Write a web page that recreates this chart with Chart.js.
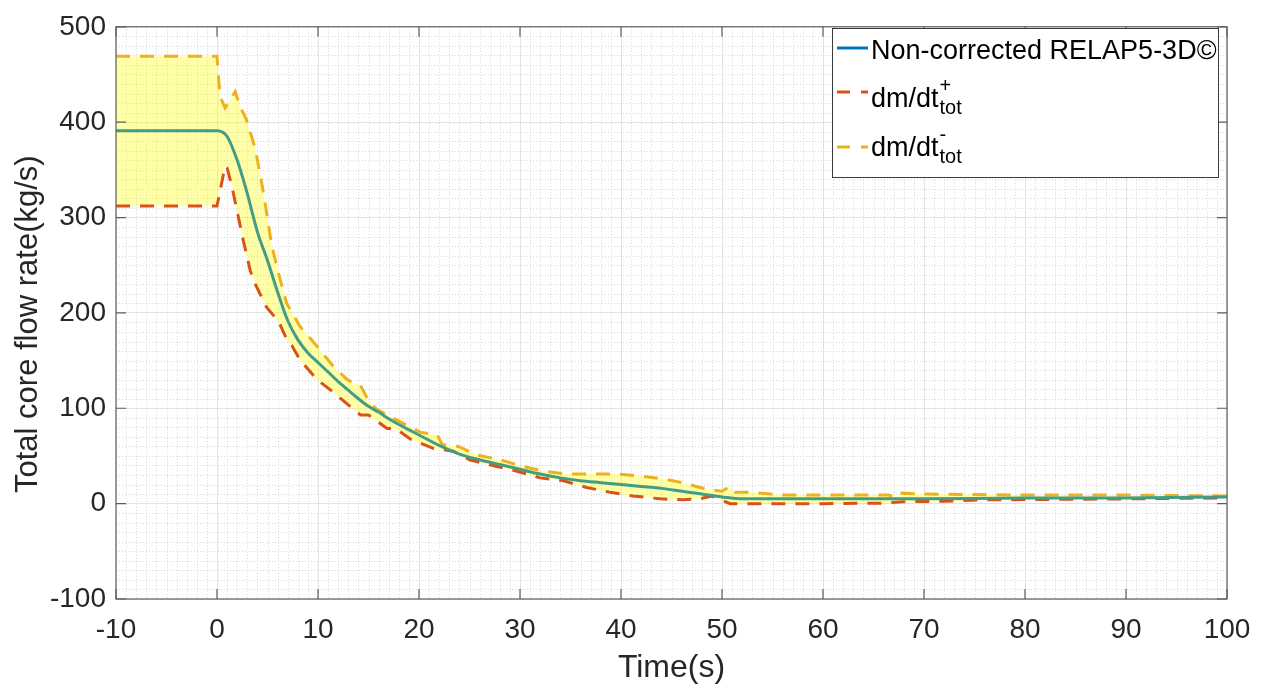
<!DOCTYPE html>
<html>
<head>
<meta charset="utf-8">
<script src="https://cdn.jsdelivr.net/npm/chart.js@4.4.1/dist/chart.umd.min.js"></script>
<style>
    html, body { margin: 0; padding: 0; background: #fff; }
    #wrap { width: 1265px; height: 687px; }
</style>
</head>
<body>
<div id="wrap"><canvas id="flowChart" width="1265" height="687"></canvas></div>
<script>
// Non-corrected RELAP5-3D (mean)
const timeMean = [-10, 0, 1, 2, 3, 4, 5, 6, 7, 8, 9, 10, 11, 12, 13, 14, 15, 16, 17, 18, 20, 22, 24, 26, 28, 30,
    32, 34, 36, 38, 40, 42, 44, 46, 48, 50, 52, 54, 60, 70, 80, 90, 100];
const flowMean = [391, 391, 385, 360, 325, 285, 255, 222, 192, 172, 158, 148, 138, 128, 119, 110, 102, 96, 89, 83, 72, 61, 52, 46, 41, 36,
    31, 27, 24, 22, 20, 18, 16, 13, 10, 7, 5, 5, 5, 5, 6, 6, 7];

// dm/dt+ (lower bound)
const timeLower = [-10, 0, 0.8, 1.0, 1.45, 2.6, 3.3, 3.8, 4.9, 6.1, 7.0, 7.4, 8.2, 9.9, 11.5, 13.5, 14.2, 15.0, 16.8, 17.8, 19.1, 21.4,
    23.4, 25, 27.7, 29.7, 32, 34.3, 36.6, 38.9, 41.2, 43.9, 46.1, 47.8, 49, 50.8, 52.8, 60, 66, 68, 72, 76, 90, 100];
const flowLower = [312, 312, 354, 352, 334, 276, 244, 230, 206, 191, 170, 166, 151, 130, 117, 99, 93, 93, 79, 78, 68, 58,
    55, 46, 39, 34, 27, 24, 17, 12, 8, 5, 4, 5, 8, 0, 0, 0, 0.5, 2, 2.5, 4, 5, 6];

// dm/dt- (upper bound)
const timeUpper = [-10, 0, 0.3, 0.8, 1.8, 2.3, 2.9, 3.8, 4.6, 5.4, 6.0, 6.9, 8.2, 9.9, 11.5, 12.9, 13.6, 14.2, 15.0, 15.8, 18.1, 20.1,
    21.8, 22.3, 23.9, 25.7, 28, 30.3, 32.3, 34.6, 37.3, 39.6, 41.9, 44.2, 46.1, 48.5, 50, 50.8, 51.3, 52.8, 56, 60, 66.5, 67.2, 67.8,
    70, 80, 90, 100];
const flowUpper = [469, 469, 427, 415, 432, 416, 403, 372, 326, 272, 245, 210, 186, 165, 144, 130, 126, 124, 108, 99, 86, 75,
    72, 62, 60, 51, 46, 39, 34, 31, 31, 31, 29, 26, 22, 15, 13, 18, 12, 12, 9, 9, 9, 6.5, 11,
    10, 9, 9, 8];

const xTickValues = [-10, 0, 10, 20, 30, 40, 50, 60, 70, 80, 90, 100];
const yTickValues = [-100, 0, 100, 200, 300, 400, 500];

const xTitle = 'Time(s)';
const yTitle = 'Total core flow rate(kg/s)';
const legendEntries = [
    {text: 'Non-corrected RELAP5-3D\u00A9', sup: '', sub: ''},
    {text: 'dm/dt', sup: '+', sub: 'tot'},
    {text: 'dm/dt', sup: '-', sub: 'tot'},
];

const FONT = "'Liberation Sans', Arial, Helvetica, sans-serif";
const AXIS_COLOR = '#5f5f5f';
const TEXT_COLOR = '#262626';

function toPoints(times, flows) {
    return times.map((t, i) => ({x: t, y: flows[i]}));
}

function setTicks(values) {
    return function (scale) {
        scale.ticks = values.map(v => ({value: v}));
    };
}

const minorGrid = {
    id: 'minorGrid',
    beforeDatasetsDraw(chart) {
        const {ctx, chartArea: a, scales: {x, y}} = chart;
        ctx.save();
        ctx.strokeStyle = '#d6d6d6';
        ctx.lineWidth = 1;
        ctx.setLineDash([1, 2]);
        ctx.beginPath();
        for (let t = xTickValues[0]; t <= xTickValues[xTickValues.length - 1]; t += 1) {
            if (t % 10 === 0) continue;
            const px = Math.round(x.getPixelForValue(t)) + 0.5;
            ctx.moveTo(px, a.top);
            ctx.lineTo(px, a.bottom);
        }
        for (let v = yTickValues[0]; v <= yTickValues[yTickValues.length - 1]; v += 10) {
            if (v % 100 === 0) continue;
            const py = Math.round(y.getPixelForValue(v)) + 0.5;
            ctx.moveTo(a.left, py);
            ctx.lineTo(a.right, py);
        }
        ctx.stroke();
        ctx.restore();
    }
};

// box round the plot with inward ticks on all four sides, plus the y label
const axesBox = {
    id: 'axesBox',
    afterDatasetsDraw(chart) {
        const {ctx, chartArea: a, scales: {x, y}} = chart;
        const len = 10;
        ctx.save();
        ctx.strokeStyle = AXIS_COLOR;
        ctx.lineWidth = 1.2;
        ctx.strokeRect(a.left, a.top, a.right - a.left, a.bottom - a.top);
        ctx.beginPath();
        xTickValues.forEach(t => {
            const px = x.getPixelForValue(t);
            ctx.moveTo(px, a.bottom); ctx.lineTo(px, a.bottom - len);
            ctx.moveTo(px, a.top); ctx.lineTo(px, a.top + len);
        });
        yTickValues.forEach(v => {
            const py = y.getPixelForValue(v);
            ctx.moveTo(a.left, py); ctx.lineTo(a.left + len, py);
            ctx.moveTo(a.right, py); ctx.lineTo(a.right - len, py);
        });
        ctx.stroke();

        // ylabel sits a bit below the axis middle in the original
        ctx.translate(37, 493);
        ctx.rotate(-Math.PI / 2);
        ctx.fillStyle = TEXT_COLOR;
        ctx.font = '31px ' + FONT;
        ctx.textAlign = 'left';
        ctx.textBaseline = 'alphabetic';
        ctx.fillText(yTitle, 0, 0);
        ctx.restore();
    }
};

const subSupLegend = {
    id: 'subSupLegend',
    afterDraw(chart) {
        const ctx = chart.ctx;
        const box = {left: 832, top: 28, right: 1218, bottom: 177};
        const lineY = [48, 92, 147];
        const baseY = [59, 107, 156];
        const colors = ['#0072BD', '#D95319', '#EDB120'];
        const dashes = [[], [13, 11], [13, 11]];

        ctx.save();
        ctx.fillStyle = '#ffffff';
        ctx.fillRect(box.left, box.top, box.right - box.left, box.bottom - box.top);
        ctx.strokeStyle = '#3a3a3a';
        ctx.lineWidth = 1;
        ctx.strokeRect(box.left + 0.5, box.top + 0.5, box.right - box.left, box.bottom - box.top);

        legendEntries.forEach((entry, i) => {
            ctx.beginPath();
            ctx.strokeStyle = colors[i];
            ctx.lineWidth = 3;
            ctx.setLineDash(dashes[i]);
            ctx.moveTo(837, lineY[i]);
            ctx.lineTo(868, lineY[i]);
            ctx.stroke();
            ctx.setLineDash([]);

            ctx.fillStyle = '#000000';
            ctx.textAlign = 'left';
            ctx.textBaseline = 'alphabetic';
            ctx.font = '27px ' + FONT;
            ctx.fillText(entry.text, 871, baseY[i]);
            const xEnd = 871 + ctx.measureText(entry.text).width + 1;
            ctx.font = '20px ' + FONT;
            if (entry.sup) ctx.fillText(entry.sup, xEnd, baseY[i] - 15);
            if (entry.sub) ctx.fillText(entry.sub, xEnd, baseY[i] + 7);
        });
        ctx.restore();
    }
};

new Chart(document.getElementById('flowChart'), {
    type: 'line',
    data: {
        datasets: [
            {
                label: 'Non-corrected RELAP5-3D\u00A9',
                data: toPoints(timeMean, flowMean),
                borderColor: '#419d86',
                borderWidth: 3,
                pointRadius: 0,
                cubicInterpolationMode: 'monotone',
                fill: false,
            },
            {
                label: 'dm/dt+ tot',
                data: toPoints(timeLower, flowLower),
                borderColor: '#D95319',
                borderWidth: 3,
                borderDash: [14, 10],
                pointRadius: 0,
                fill: false,
            },
            {
                label: 'dm/dt- tot',
                data: toPoints(timeUpper, flowUpper),
                borderColor: '#EDB120',
                borderWidth: 3,
                borderDash: [14, 10],
                pointRadius: 0,
                fill: 1,
                backgroundColor: 'rgba(255, 255, 0, 0.34)',
            },
        ]
    },
    options: {
        responsive: false,
        animation: false,
        devicePixelRatio: 1,
        layout: {padding: {top: 19, right: 38, left: 0, bottom: 0}},
        plugins: {
            legend: {display: false},
            tooltip: {enabled: false},
        },
        scales: {
            x: {
                type: 'linear',
                min: -10,
                max: 100,
                afterBuildTicks: setTicks(xTickValues),
                afterFit(scale) { scale.height = 88; },
                grid: {color: '#e2e2e2', lineWidth: 1, drawTicks: false},
                border: {display: false},
                ticks: {font: {family: FONT, size: 28}, color: TEXT_COLOR, padding: 14, maxRotation: 0},
                title: {display: true, text: xTitle, font: {family: FONT, size: 32}, color: TEXT_COLOR,
                    padding: {top: 0, bottom: 0}},
            },
            y: {
                type: 'linear',
                min: -100,
                max: 500,
                afterBuildTicks: setTicks(yTickValues),
                afterFit(scale) { scale.width = 116; },
                grid: {color: '#e2e2e2', lineWidth: 1, drawTicks: false},
                border: {display: false},
                ticks: {font: {family: FONT, size: 28}, color: TEXT_COLOR, padding: 10},
                title: {display: false},
            }
        }
    },
    plugins: [minorGrid, axesBox, subSupLegend]
});
</script>
</body>
</html>
